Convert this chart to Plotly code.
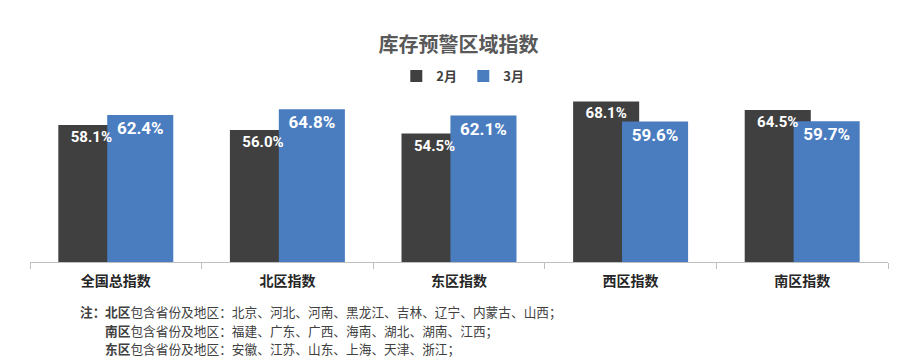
import plotly.graph_objects as go

categories = ["全国总指数", "北区指数", "东区指数", "西区指数", "南区指数"]
feb_values = [58.1, 56.0, 54.5, 68.1, 64.5]
mar_values = [62.4, 64.8, 62.1, 59.6, 59.7]
series_names = ["2月", "3月"]
title_text = "库存预警区域指数"
note_head = "<b>注：</b>"
note_lines = [
    "<b>北区</b>包含省份及地区：北京、河北、河南、黑龙江、吉林、辽宁、内蒙古、山西；",
    "<b>南区</b>包含省份及地区：福建、广东、广西、海南、湖北、湖南、江西；",
    "<b>东区</b>包含省份及地区：安徽、江苏、山东、上海、天津、浙江；",
]

DARK = "#404040"
BLUE = "#4a7cc0"
NUM_FONT = "Roboto, Liberation Sans, sans-serif"
CJK = "Noto Sans CJK SC, sans-serif"

PLOT_TOP, PLOT_BOTTOM = 97, 262
L, R = 30, 29
W = 0.385
OFF_FEB, OFF_MAR = -0.335, -0.05

fig = go.Figure()
fig.add_trace(go.Bar(
    x=categories, y=feb_values, name=series_names[0],
    marker=dict(color=DARK, line=dict(width=0)),
    width=W, offset=OFF_FEB, hoverinfo="skip",
))
fig.add_trace(go.Bar(
    x=categories, y=mar_values, name=series_names[1],
    marker=dict(color=BLUE, line=dict(width=0)),
    width=W, offset=OFF_MAR,
    texttemplate="%{y:.1f}%", textposition="inside", insidetextanchor="end",
    constraintext="none", textangle=0,
    textfont=dict(color="white", size=17, family=NUM_FONT, weight="bold"),
))
# transparent copy of Feb bars carrying labels drawn above the Mar bars
fig.add_trace(go.Bar(
    x=categories, y=feb_values, name=series_names[0], showlegend=False,
    marker=dict(color="rgba(0,0,0,0)", line=dict(width=0)),
    width=W, offset=OFF_FEB,
    texttemplate="%{y:.1f}%", textposition="inside", insidetextanchor="end",
    constraintext="none", textangle=0,
    textfont=dict(color="white", size=15, family=NUM_FONT, weight="bold"),
))

fig.update_layout(
    width=917, height=361,
    margin=dict(l=L, r=R, t=PLOT_TOP, b=361 - PLOT_BOTTOM, autoexpand=False),
    paper_bgcolor="white", plot_bgcolor="white",
    barmode="overlay",
    font=dict(family=CJK, color=DARK),
    title=dict(text=title_text, x=0.5, xanchor="center", xref="container",
               y=1 - 45 / 361, yref="container", yanchor="middle",
               font=dict(size=20, color="#595959", family=CJK, weight="bold")),
    legend=dict(orientation="h", x=0.505, xanchor="center", xref="paper",
                y=(PLOT_BOTTOM - 76) / (PLOT_BOTTOM - PLOT_TOP), yref="paper", yanchor="middle",
                font=dict(size=13, color=DARK, family=CJK, weight="bold"),
                itemwidth=30, entrywidth=22, entrywidthmode="pixels", traceorder="normal"),
    showlegend=True,
)
fig.update_xaxes(
    type="category", showline=True, linecolor="#bfbfbf", linewidth=1,
    ticks="outside", tickson="boundaries", ticklen=6, tickcolor="#bfbfbf",
    tickfont=dict(size=14, color="#262626", family=CJK, weight="bold"),
    ticklabelstandoff=6, showgrid=False, zeroline=False, automargin=False,
)
fig.update_yaxes(range=[0, 70], visible=False, showgrid=False, zeroline=False, automargin=False)

def px_to_paper(xx, yy):
    return (xx - L) / (917 - L - R), (PLOT_BOTTOM - yy) / (PLOT_BOTTOM - PLOT_TOP)

NOTE_FONT = dict(size=12.7, color=DARK, family=CJK)
hx, hy = px_to_paper(78, 311)
fig.add_annotation(text=note_head, xref="paper", yref="paper", x=hx, y=hy,
                   xanchor="left", yanchor="middle", showarrow=False, font=NOTE_FONT)
for txt, yy in zip(note_lines, [311, 330, 348]):
    ax, ay = px_to_paper(103, yy)
    fig.add_annotation(text=txt, xref="paper", yref="paper", x=ax, y=ay,
                       xanchor="left", yanchor="middle", showarrow=False, font=NOTE_FONT)

fig.write_html("out.html", config={"displayModeBar": False},
               post_script="document.body.style.margin='0';")
